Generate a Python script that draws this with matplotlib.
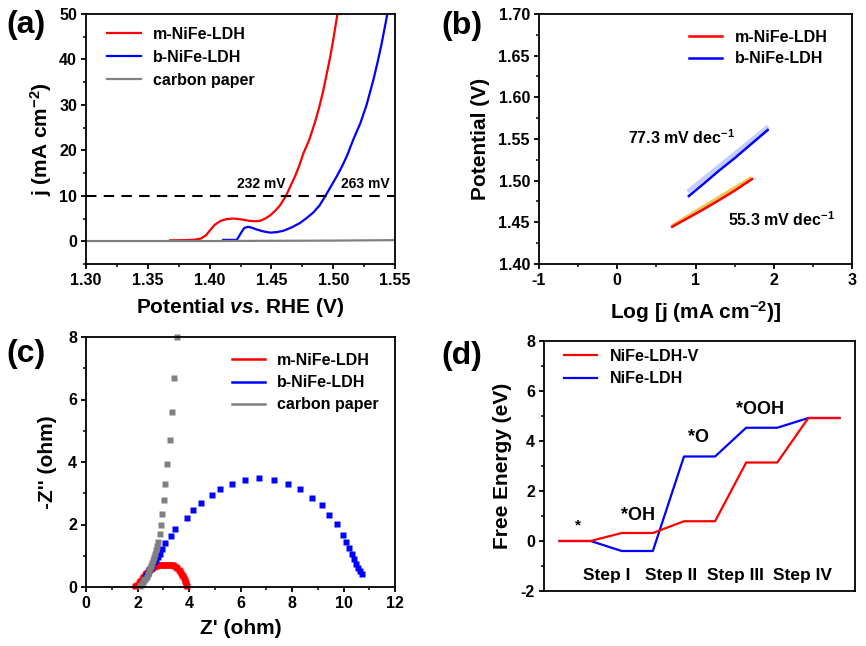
import matplotlib
matplotlib.use('Agg')
import matplotlib.pyplot as plt
from matplotlib.lines import Line2D
from matplotlib.ticker import MultipleLocator, FormatStrFormatter

plt.rcParams.update({
    'font.family': ['Liberation Sans', 'DejaVu Sans'],
    'font.weight': 'bold',
    'axes.labelweight': 'bold',
    'axes.unicode_minus': False,
    'mathtext.fontset': 'custom',
    'mathtext.rm': 'Liberation Sans:bold',
    'mathtext.it': 'Liberation Sans:italic:bold',
    'mathtext.bf': 'Liberation Sans:bold',
    'axes.linewidth': 1.3,
    'xtick.direction': 'out',
    'ytick.direction': 'out',
    'xtick.major.size': 3.5,
    'ytick.major.size': 3.5,
    'xtick.minor.size': 2,
    'ytick.minor.size': 2,
    'xtick.major.width': 1.3,
    'ytick.major.width': 1.3,
    'xtick.minor.width': 1.1,
    'ytick.minor.width': 1.1,
    'xtick.labelsize': 11.5,
    'ytick.labelsize': 11.5,
    'xtick.major.pad': 3,
    'ytick.major.pad': 3,
    'axes.labelsize': 15,
})

# ---------------- data ----------------
# (a) LSV
m_lsv_V = [1.368, 1.380, 1.388, 1.393, 1.397, 1.400, 1.404, 1.409, 1.414, 1.420, 1.426,
           1.432, 1.437, 1.441, 1.445, 1.449, 1.453, 1.457, 1.462, 1.4655, 1.469,
           1.4725, 1.4758, 1.4806, 1.4848, 1.4888, 1.4920, 1.4948, 1.4976, 1.5002, 1.5034]
m_lsv_j = [0.2, 0.25, 0.35, 0.6, 1.3, 2.3, 3.6, 4.5, 4.9, 5.0, 4.8,
           4.5, 4.4, 4.5, 5.0, 5.7, 6.7, 7.9, 10.1, 12.2, 14.2,
           16.6, 19.3, 22.3, 25.8, 29.6, 33.2, 36.9, 40.6, 44.6, 50.0]
b_lsv_V = [1.411, 1.422, 1.424, 1.426, 1.428, 1.431, 1.434, 1.438, 1.443, 1.4489, 1.454,
           1.4596, 1.466, 1.473, 1.478, 1.4838, 1.489, 1.4935, 1.498, 1.5029, 1.507,
           1.511, 1.5163, 1.522, 1.527, 1.5325, 1.536, 1.5392, 1.5438]
b_lsv_j = [0.3, 0.3, 1.2, 2.1, 2.9, 3.2, 3.0, 2.6, 2.2, 1.9, 2.0,
           2.3, 3.0, 4.0, 5.0, 6.3, 7.9, 9.9, 12.0, 14.3, 16.4,
           18.7, 22.4, 26.0, 30.0, 35.5, 39.5, 43.5, 50.0]
cp_lsv_V = [1.30, 1.40, 1.45, 1.50, 1.55]
cp_lsv_j = [0.05, 0.05, 0.10, 0.15, 0.25]
ref_j = 10
overpot_labels = ['232 mV', '263 mV']

# (b) Tafel
m_taf_x = [0.702, 0.90, 1.10, 1.30, 1.50, 1.723]
m_taf_y = [1.4448, 1.4550, 1.4655, 1.4765, 1.4880, 1.5020]
m_fit_x = [0.70, 1.72]
m_fit_y = [1.4455, 1.5035]
b_taf_x = [0.915, 1.10, 1.30, 1.50, 1.70, 1.923]
b_taf_y = [1.4816, 1.4960, 1.5120, 1.5270, 1.5430, 1.5608]
b_fit_x = [0.90, 1.93]
b_fit_y = [1.4868, 1.5650]
tafel_labels = ['77.3 mV dec$^{-1}$', '55.3 mV dec$^{-1}$']

# (c) EIS
m_eis_x = [1.92, 1.98, 2.04, 2.10, 2.16, 2.22, 2.28, 2.34, 2.40, 2.46,
           2.52, 2.58, 2.64, 2.70, 2.76, 2.82, 2.88, 2.94, 3.00, 3.06,
           3.12, 3.18, 3.24, 3.30, 3.36, 3.42, 3.48, 3.54, 3.60, 3.65,
           3.70, 3.74, 3.78, 3.81, 3.84, 3.86, 3.88, 3.90, 3.91]
m_eis_y = [0.02, 0.08, 0.14, 0.20, 0.26, 0.32, 0.38, 0.44, 0.49, 0.54,
           0.58, 0.62, 0.65, 0.68, 0.70, 0.71, 0.72, 0.72, 0.72, 0.72,
           0.72, 0.72, 0.71, 0.70, 0.69, 0.67, 0.64, 0.60, 0.56, 0.51,
           0.45, 0.40, 0.34, 0.29, 0.23, 0.18, 0.13, 0.07, 0.02]
b_eis_x = [2.28, 2.34, 2.40, 2.46, 2.52, 2.58, 2.65, 2.72, 2.80, 2.88, 2.96, 3.08, 3.30, 3.47,
           3.91, 4.16, 4.47, 4.88, 5.19, 5.67, 6.16, 6.73, 7.30, 7.83, 8.32, 8.79,
           9.18, 9.45, 9.75, 9.97, 10.10, 10.21, 10.33, 10.41, 10.49, 10.56, 10.63, 10.73]
b_eis_y = [0.30, 0.38, 0.46, 0.54, 0.62, 0.72, 0.80, 0.88, 0.97, 1.06, 1.23, 1.42, 1.63, 1.86,
           2.20, 2.45, 2.70, 2.95, 3.13, 3.30, 3.42, 3.48, 3.42, 3.31, 3.13, 2.86,
           2.61, 2.30, 2.03, 1.67, 1.45, 1.24, 1.06, 0.89, 0.75, 0.62, 0.52, 0.43]
cp_eis_x = [2.10, 2.14, 2.18, 2.23, 2.27, 2.31, 2.36, 2.40, 2.45, 2.49, 2.53, 2.57,
            2.61, 2.65, 2.69, 2.72, 2.76, 2.81, 2.86, 2.91, 2.96, 3.02, 3.08, 3.16,
            3.25, 3.35, 3.43, 3.55]
cp_eis_y = [0.03, 0.07, 0.11, 0.15, 0.21, 0.27, 0.33, 0.42, 0.51, 0.60, 0.68, 0.77,
            0.86, 0.95, 1.06, 1.18, 1.30, 1.43, 1.69, 1.99, 2.34, 2.77, 3.31, 3.94,
            4.69, 5.61, 6.70, 7.99]

# (d) free energy
states = ['*', '*OH', '*O', '*OOH', 'O2']
red_G = [0.0, 0.32, 0.79, 3.14, 4.92]
blue_G = [0.0, -0.40, 3.38, 4.53, 4.92]
step_names = ['Step I', 'Step II', 'Step III', 'Step IV']

RED = '#FF0000'
BLUE = '#0000FF'
GRAY = '#808080'

fig = plt.figure(figsize=(8.66, 6.46), dpi=100)

W, H = 866, 646
def ax_at(l, t, r, b):
    return fig.add_axes([l / W, 1 - b / H, (r - l) / W, (b - t) / H])

leg_kw = dict(frameon=False, fontsize=11.5, handlelength=2.1, handletextpad=0.75,
              borderpad=0, borderaxespad=0, loc='upper left')

def style(ax):
    ax.tick_params(which='both', top=False, right=False)

# ---------- (a) ----------
axa = ax_at(86, 14, 395, 264)
axa.plot(m_lsv_V, m_lsv_j, color=RED, lw=1.6, label='m-NiFe-LDH')
axa.plot(b_lsv_V, b_lsv_j, color=BLUE, lw=1.6, label='b-NiFe-LDH')
axa.plot(cp_lsv_V, cp_lsv_j, color=GRAY, lw=1.6, label='carbon paper')
axa.plot([1.30, 1.55], [ref_j, ref_j], color='black', lw=1.5, ls=(0, (5, 3.5)))
axa.text(1.442, 12.6, overpot_labels[0], fontsize=10, ha='center', va='center')
axa.text(1.5257, 12.6, overpot_labels[1], fontsize=10, ha='center', va='center')
axa.set_xlim(1.30, 1.55)
axa.set_ylim(-5, 50)
axa.xaxis.set_major_locator(MultipleLocator(0.05))
axa.xaxis.set_minor_locator(MultipleLocator(0.025))
axa.xaxis.set_major_formatter(FormatStrFormatter('%.2f'))
axa.yaxis.set_major_locator(MultipleLocator(10))
axa.yaxis.set_minor_locator(MultipleLocator(5))
axa.set_xlabel('Potential $\\mathit{vs.}\\,$RHE (V)', labelpad=6)
axa.set_ylabel('j (mA cm$^{-2}$)', labelpad=4)
axa.legend(bbox_to_anchor=(0.068, 0.948), labelspacing=0.5, **leg_kw)
style(axa)

# ---------- (b) ----------
axb = ax_at(539, 14, 852, 264)
axb.plot(b_fit_x, b_fit_y, color='#B4C2FF', lw=3.0, alpha=0.8, solid_capstyle='butt')
axb.plot(m_fit_x, m_fit_y, color='#E8C040', lw=2.8, alpha=0.9, solid_capstyle='butt')
axb.plot(m_taf_x, m_taf_y, color=RED, lw=1.8, label='m-NiFe-LDH')
axb.plot(b_taf_x, b_taf_y, color=BLUE, lw=1.8, label='b-NiFe-LDH')
axb.text(0.82, 1.552, tafel_labels[0], fontsize=11.5, ha='center', va='center')
axb.text(2.094, 1.4528, tafel_labels[1], fontsize=11.5, ha='center', va='center')
axb.set_xlim(-1, 3)
axb.set_ylim(1.40, 1.70)
axb.xaxis.set_major_locator(MultipleLocator(1))
axb.xaxis.set_minor_locator(MultipleLocator(0.5))
axb.yaxis.set_major_locator(MultipleLocator(0.05))
axb.yaxis.set_minor_locator(MultipleLocator(0.025))
axb.yaxis.set_major_formatter(FormatStrFormatter('%.2f'))
axb.set_xlabel('Log [j (mA cm$^{-2}$)]', labelpad=8)
axb.set_ylabel('Potential (V)', labelpad=6)
axb.legend(bbox_to_anchor=(0.479, 0.936), labelspacing=0.4, **leg_kw)
style(axb)

# ---------- (c) ----------
axc = ax_at(86, 337, 395, 587)
axc.plot(m_eis_x, m_eis_y, 's', color=RED, ms=4.2, mec='none', clip_on=False)
axc.plot(b_eis_x, b_eis_y, 's', color=BLUE, ms=4.2, mec='none', clip_on=False)
axc.plot(cp_eis_x, cp_eis_y, 's', color=GRAY, ms=4, mec='none', clip_on=False)
axc.set_xlim(0, 12)
axc.set_ylim(0, 8)
axc.xaxis.set_major_locator(MultipleLocator(2))
axc.xaxis.set_minor_locator(MultipleLocator(1))
axc.yaxis.set_major_locator(MultipleLocator(2))
axc.yaxis.set_minor_locator(MultipleLocator(1))
axc.set_xlabel("Z' (ohm)", labelpad=6)
axc.set_ylabel("-Z'' (ohm)", labelpad=8)
handles_c = [Line2D([], [], color=RED, lw=1.8), Line2D([], [], color=BLUE, lw=1.8),
             Line2D([], [], color=GRAY, lw=1.8)]
axc.legend(handles_c, ['m-NiFe-LDH', 'b-NiFe-LDH', 'carbon paper'],
           bbox_to_anchor=(0.472, 0.936), labelspacing=0.45, **leg_kw)
style(axc)

# ---------- (d) ----------
axd = ax_at(544, 341, 855, 591)
def steps(vals):
    xs, ys = [], []
    for i, g in enumerate(vals):
        xs += [2 * i, 2 * i + 1]
        ys += [g, g]
    return xs, ys
bx, by = steps(blue_G)
rx, ry = steps(red_G)
axd.plot(bx, by, color=BLUE, lw=1.6, label='NiFe-LDH')
axd.plot(rx, ry, color=RED, lw=1.6, label='NiFe-LDH-V')
state_pos = [(0.59, 0.64), (2.52, 1.02), (4.47, 4.12), (6.46, 5.25)]
for s, (x, y) in zip(states[:4], state_pos):
    axd.text(x, y, s, fontsize=13 if s != '*' else 11, ha='center', va='center')
step_x = [1.52, 3.57, 5.66, 7.82]
for s, x in zip(step_names, step_x):
    axd.text(x, -1.39, s, fontsize=12.5, ha='center', va='center')
axd.set_xlim(-0.5, 9.5)
axd.set_ylim(-2, 8)
axd.set_xticks([])
axd.yaxis.set_major_locator(MultipleLocator(2))
axd.yaxis.set_minor_locator(MultipleLocator(1))
axd.set_ylabel('Free Energy (eV)', labelpad=6)
hd, ld = axd.get_legend_handles_labels()
axd.legend(hd[::-1], ld[::-1], bbox_to_anchor=(0.064, 0.968), labelspacing=0.45, **leg_kw)
style(axd)

# panel labels
for lab, x, y in [('(a)', 6, 25), ('(b)', 441, 26), ('(c)', 6, 354), ('(d)', 441, 356)]:
    fig.text(x / W, 1 - y / H, lab, fontsize=23, fontweight='bold', ha='left', va='center')

fig.savefig('out.png', dpi=100)
